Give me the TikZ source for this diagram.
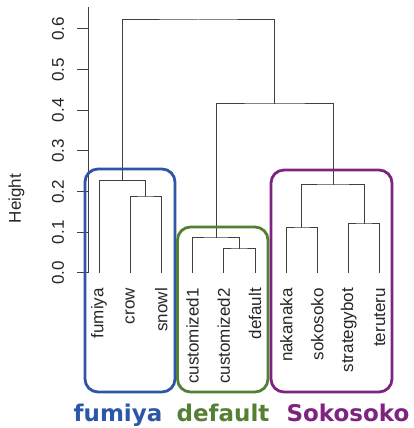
\documentclass[tikz,border=0pt]{standalone}
\usepackage{fontspec}
\setmainfont{Liberation Sans}
\newfontfamily\titlefont{DejaVu Sans}
\definecolor{gblue}{RGB}{46,86,168}
\definecolor{ggreen}{RGB}{84,128,52}
\definecolor{gpurple}{RGB}{126,36,128}

\begin{document}
\begin{tikzpicture}[x=1pt,y=1pt,
    tree/.style={draw=black!75, line width=1pt},
    leaf/.style={rotate=90, anchor=east, inner sep=0pt, text=black!85, font=\fontsize{17}{17}\selectfont},
    ticklab/.style={rotate=90, inner sep=0pt, text=black!85, font=\fontsize{17}{17}\selectfont},
    group/.style={line width=2.8pt, rounded corners=13pt},
    grouplab/.style={anchor=base, inner sep=0pt, font=\titlefont\bfseries\fontsize{23}{23}\selectfont}]
    \useasboundingbox (0,0) rectangle (414,428);

    % Asse
    \draw[tree] (88,155) -- (88,421);
    \foreach \k in {0,...,6} {
        \draw[tree] (77,155+40.67*\k) -- (88,155+40.67*\k);
        \node[ticklab] (t\k) at (58,155+40.67*\k) {0.\k};
    }
    \node[ticklab] (ylab) at (16.5,229.5) {Height};

    % Foglie
    \foreach \n [count=\i] in {fumiya,crow,snowl,customized1,customized2,default,nakanaka,sokosoko,strategybot,teruteru} {
        \coordinate (\n) at ({67.8+31.2*\i},155);
        \node[leaf] (lab\i) at ({67.8+31.2*\i},140) {\n};
    }

    % Fusioni
    \coordinate (cs)   at (145.8,231);
    \coordinate (fcs)  at (122.4,247.5);
    \coordinate (c2d)  at (239.4,179);
    \coordinate (c1cd) at (216,190);
    \coordinate (ns)   at (301.8,200);
    \coordinate (st)   at (364.2,204);
    \coordinate (nsst) at (333,243);
    \coordinate (mid)  at (274.5,324);
    \coordinate (root) at (198.45,408);

    \draw[tree] (crow) |- (cs) -| (snowl);
    \draw[tree] (fumiya) |- (fcs) -| (cs);
    \draw[tree] (customized2) |- (c2d) -| (default);
    \draw[tree] (customized1) |- (c1cd) -| (c2d);
    \draw[tree] (nakanaka) |- (ns) -| (sokosoko);
    \draw[tree] (strategybot) |- (st) -| (teruteru);
    \draw[tree] (ns) |- (nsst) -| (st);
    \draw[tree] (c1cd) |- (mid) -| (nsst);
    \draw[tree] (fcs) |- (root) -| (mid);

    % Gruppi
    \draw[group, gblue]   (85,36) rectangle (175,259);
    \draw[group, ggreen]  (177.5,36) rectangle (268,201);
    \draw[group, gpurple] (271,36) rectangle (392,258);

    % Etichette
    \node[grouplab, text=gblue]   (gfumiya)   at (118,6.5) {fumiya};
    \node[grouplab, text=ggreen]  (gdefault)  at (223,6.5) {default};
    \node[grouplab, text=gpurple] (gsokosoko) at (348,6.5) {Sokosoko};
\end{tikzpicture}
\end{document}
